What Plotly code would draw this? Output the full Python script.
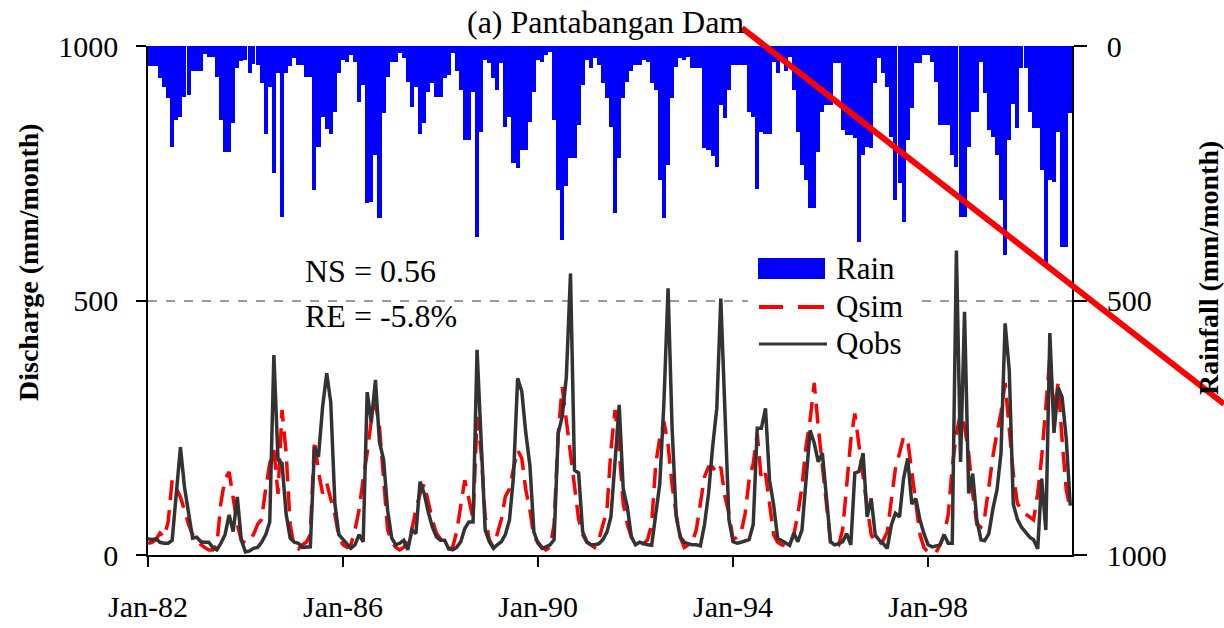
import plotly.graph_objects as go
import pandas as pd

# ---------------- data (monthly, Jan 1982 - Dec 2000) ----------------
months = pd.date_range("1982-01-01", periods=228, freq="MS")

rain = [
    40, 40, 40, 63, 80, 103, 198, 145, 139, 100, 96, 50,        # 1982
    50, 50, 15, 21, 21, 60, 145, 208, 208, 152, 44, 30,         # 1983
    28, 54, 35, 37, 73, 172, 80, 250, 54, 335, 54, 40,          # 1984
    24, 37, 37, 60, 60, 283, 198, 139, 163, 172, 130, 54,       # 1985
    28, 31, 18, 31, 110, 77, 309, 306, 214, 338, 132, 60,       # 1986
    31, 31, 14, 24, 70, 119, 80, 172, 152, 90, 73, 100,         # 1987
    100, 63, 57, 14, 50, 86, 185, 185, 90, 375, 168, 27,        # 1988
    34, 63, 86, 34, 159, 139, 230, 240, 204, 204, 149, 90,      # 1989
    27, 31, 18, 11, 145, 283, 381, 276, 221, 221, 155, 77,      # 1990
    27, 44, 24, 37, 73, 103, 159, 329, 221, 103, 70, 50,        # 1991
    37, 37, 27, 31, 73, 86, 263, 338, 234, 103, 41, 24,         # 1992
    27, 21, 44, 44, 44, 201, 204, 217, 237, 116, 142, 86,       # 1993
    37, 37, 37, 37, 129, 139, 280, 168, 172, 172, 31, 54,       # 1994
    28, 50, 21, 86, 168, 234, 263, 319, 319, 208, 129, 116,     # 1995
    116, 34, 34, 165, 175, 175, 181, 385, 214, 198, 200, 73,    # 1996
    24, 54, 80, 178, 303, 270, 345, 185, 122, 34, 34, 18,       # 1997
    18, 31, 70, 155, 155, 155, 214, 237, 335, 335, 198, 129,    # 1998
    129, 31, 93, 165, 178, 214, 303, 411, 185, 113, 162, 44,    # 1999
    44, 129, 162, 162, 244, 430, 263, 267, 168, 394, 394, 132,  # 2000
]

q_obs = [
    32, 30, 32, 25, 23, 23, 29, 120, 212, 134, 80, 33,          # 1982
    35, 26, 25, 25, 15, 10, 23, 40, 79, 46, 114, 29,            # 1983
    6, 8, 13, 15, 25, 40, 65, 393, 187, 180, 80, 33,            # 1984
    25, 23, 15, 16, 16, 212, 193, 291, 357, 300, 101, 40,       # 1985
    30, 20, 13, 20, 40, 26, 320, 261, 344, 222, 187, 88,        # 1986
    33, 20, 23, 29, 10, 49, 42, 144, 121, 85, 55, 36,           # 1987
    29, 29, 13, 10, 15, 26, 52, 65, 65, 403, 226, 49,           # 1988
    26, 13, 20, 26, 40, 69, 154, 347, 322, 240, 176, 45,        # 1989
    23, 13, 16, 20, 30, 239, 272, 350, 553, 167, 161, 46,       # 1990
    26, 20, 20, 22, 30, 45, 75, 175, 295, 130, 94, 36,          # 1991
    20, 25, 22, 20, 19, 80, 140, 300, 524, 250, 75, 36,         # 1992
    25, 22, 20, 20, 18, 60, 120, 213, 288, 504, 290, 69,        # 1993
    26, 23, 25, 27, 30, 60, 249, 249, 288, 147, 98, 33,         # 1994
    28, 25, 19, 43, 26, 49, 147, 245, 220, 183, 200, 111,       # 1995
    26, 20, 22, 26, 42, 20, 161, 164, 200, 75, 111, 39,         # 1996
    29, 22, 13, 59, 82, 75, 150, 190, 100, 111, 69, 42,         # 1997
    20, 16, 18, 20, 40, 23, 23, 598, 183, 478, 121, 160,        # 1998
    69, 30, 28, 42, 90, 128, 200, 455, 363, 100, 70, 55,        # 1999
    45, 35, 30, 12, 150, 49, 436, 240, 329, 310, 228, 97,       # 2000
]

q_sim = [
    23, 25, 30, 43, 35, 65, 147, 130, 114, 88, 60, 40,          # 1982
    30, 20, 15, 10, 10, 20, 102, 150, 163, 114, 60, 29,         # 1983
    23, 29, 40, 60, 70, 131, 180, 206, 120, 285, 200, 60,       # 1984
    15, 12, 20, 25, 40, 226, 164, 121, 141, 110, 80, 35,        # 1985
    20, 15, 20, 50, 88, 150, 200, 265, 298, 252, 147, 50,       # 1986
    25, 15, 10, 15, 30, 50, 90, 120, 140, 102, 69, 43,          # 1987
    30, 20, 12, 15, 45, 100, 147, 110, 70, 271, 200, 75,        # 1988
    30, 15, 40, 70, 115, 130, 170, 206, 190, 128, 88, 35,       # 1989
    25, 15, 10, 15, 60, 239, 330, 265, 193, 128, 70, 40,        # 1990
    25, 20, 15, 30, 60, 88, 206, 285, 206, 101, 60, 35,         # 1991
    25, 22, 22, 30, 60, 180, 230, 262, 216, 138, 80, 35,        # 1992
    15, 20, 25, 50, 101, 154, 173, 173, 160, 173, 115, 82,      # 1993
    30, 35, 43, 81, 147, 180, 239, 147, 160, 95, 40, 25,        # 1994
    20, 18, 20, 40, 80, 134, 212, 265, 338, 252, 173, 101,      # 1995
    25, 15, 18, 50, 134, 226, 278, 212, 150, 95, 40, 25,        # 1996
    20, 30, 45, 108, 170, 200, 232, 226, 160, 95, 40, 15,       # 1997
    5, 5, 5, 20, 40, 80, 173, 239, 278, 252, 200, 121,          # 1998
    60, 55, 75, 134, 193, 240, 280, 338, 252, 160, 101, 90,     # 1999
    80, 75, 69, 121, 193, 291, 389, 278, 338, 226, 128, 90,     # 2000
]

x_tick_vals = ["1982-01-01", "1986-01-01", "1990-01-01", "1994-01-01", "1998-01-01"]
x_tick_text = ["Jan-82", "Jan-86", "Jan-90", "Jan-94", "Jan-98"]
y_tick_vals = [0, 500, 1000]
stats_text = ["NS = 0.56", "RE = -5.8%"]
legend_names = ["Rain", "Qsim", "Qobs"]

# ---------------- layout geometry ----------------
W, H = 1224, 628
L, R, T, B = 148, 1072, 46, 555
FONT = "Liberation Serif, Times New Roman, serif"


def px(x):
    return (x - L) / (R - L)


def py(y):
    return (B - y) / (B - T)


fig = go.Figure()

fig.add_trace(go.Bar(
    x=months, y=rain, yaxis="y", name=legend_names[0],
    marker=dict(color="#0000FF", line=dict(width=0)),
    width=30.44 * 86400000, showlegend=False,
))
fig.add_trace(go.Scatter(
    x=months, y=q_sim, yaxis="y2", mode="lines", name=legend_names[1],
    line=dict(color="#FF0000", width=3.5, dash="20px,10px"), showlegend=False,
))
fig.add_trace(go.Scatter(
    x=months, y=q_obs, yaxis="y2", mode="lines", name=legend_names[2],
    line=dict(color="#333333", width=3.5), showlegend=False,
))

axis_common = dict(
    showline=True, linecolor="black", linewidth=1.5,
    ticks="outside", tickcolor="black", tickwidth=1.5,
    tickfont=dict(family=FONT, size=30, color="black"),
    zeroline=False, automargin=False,
)

fig.update_layout(
    width=W, height=H, autosize=False,
    margin=dict(l=L, r=W - R, t=T, b=H - B, pad=0),
    paper_bgcolor="white", plot_bgcolor="white",
    bargap=0, showlegend=False,
    font=dict(family=FONT, color="black"),
    xaxis=dict(
        type="date", range=["1982-01-01", "2000-12-14"],
        tickvals=x_tick_vals, ticktext=x_tick_text,
        ticklen=10, showgrid=False, ticklabelstandoff=14,
        **axis_common,
    ),
    yaxis=dict(
        range=[1000, 0], side="right", tickvals=y_tick_vals,
        showgrid=False, ticklen=13, ticklabelstandoff=14,
        **axis_common,
    ),
    yaxis2=dict(
        range=[0, 1000], side="left", overlaying="y", anchor="x",
        tickvals=y_tick_vals, ticklen=10, ticklabelstandoff=12,
        showgrid=True, gridcolor="#9a9a9a", gridwidth=1.5, griddash="dash",
        **axis_common,
    ),
)

shapes = [
    # legend box
    dict(type="rect", xref="paper", yref="paper", layer="above",
         x0=px(748), x1=px(918), y0=py(372), y1=py(252),
         fillcolor="white", line=dict(width=0)),
    dict(type="rect", xref="paper", yref="paper", layer="above",
         x0=px(758), x1=px(825), y0=py(279), y1=py(258),
         fillcolor="#0000FF", line=dict(width=0)),
    dict(type="line", xref="paper", yref="paper", layer="above",
         x0=px(759), x1=px(783), y0=py(307), y1=py(307),
         line=dict(color="#FF0000", width=4)),
    dict(type="line", xref="paper", yref="paper", layer="above",
         x0=px(798), x1=px(824), y0=py(307), y1=py(307),
         line=dict(color="#FF0000", width=4)),
    dict(type="line", xref="paper", yref="paper", layer="above",
         x0=px(759), x1=px(827), y0=py(344), y1=py(344),
         line=dict(color="#333333", width=3)),
    # red diagonal stroke across the figure
    dict(type="line", xref="paper", yref="paper", layer="above",
         x0=px(742), y0=py(28), x1=px(1224), y1=py(404),
         line=dict(color="#FF0000", width=6)),
]

annotations = [
    dict(text="(a) Pantabangan Dam", xref="paper", yref="paper",
         x=px(605), y=py(22), xanchor="center", yanchor="middle",
         showarrow=False, font=dict(family=FONT, size=32, color="black")),
    dict(text="<b>Discharge (mm/month)</b>", xref="paper", yref="paper",
         x=px(28), y=py(262), xanchor="center", yanchor="middle", textangle=-90,
         showarrow=False, font=dict(family=FONT, size=28, color="black")),
    dict(text="<b>Rainfall (mm/month)</b>", xref="paper", yref="paper",
         x=px(1208), y=py(268), xanchor="center", yanchor="middle", textangle=-90,
         showarrow=False, font=dict(family=FONT, size=28, color="black")),
    dict(text=stats_text[0], xref="paper", yref="paper",
         x=px(303), y=py(271), xanchor="left", yanchor="middle",
         showarrow=False, font=dict(family=FONT, size=32, color="black")),
    dict(text=stats_text[1], xref="paper", yref="paper",
         x=px(303), y=py(316), xanchor="left", yanchor="middle",
         showarrow=False, font=dict(family=FONT, size=32, color="black")),
]
for name, yc in zip(legend_names, [268, 306, 343]):
    annotations.append(dict(
        text=name, xref="paper", yref="paper", x=px(834), y=py(yc),
        xanchor="left", yanchor="middle", showarrow=False,
        font=dict(family=FONT, size=31, color="black")))

fig.update_layout(shapes=shapes, annotations=annotations)

fig.write_html("out.html")
